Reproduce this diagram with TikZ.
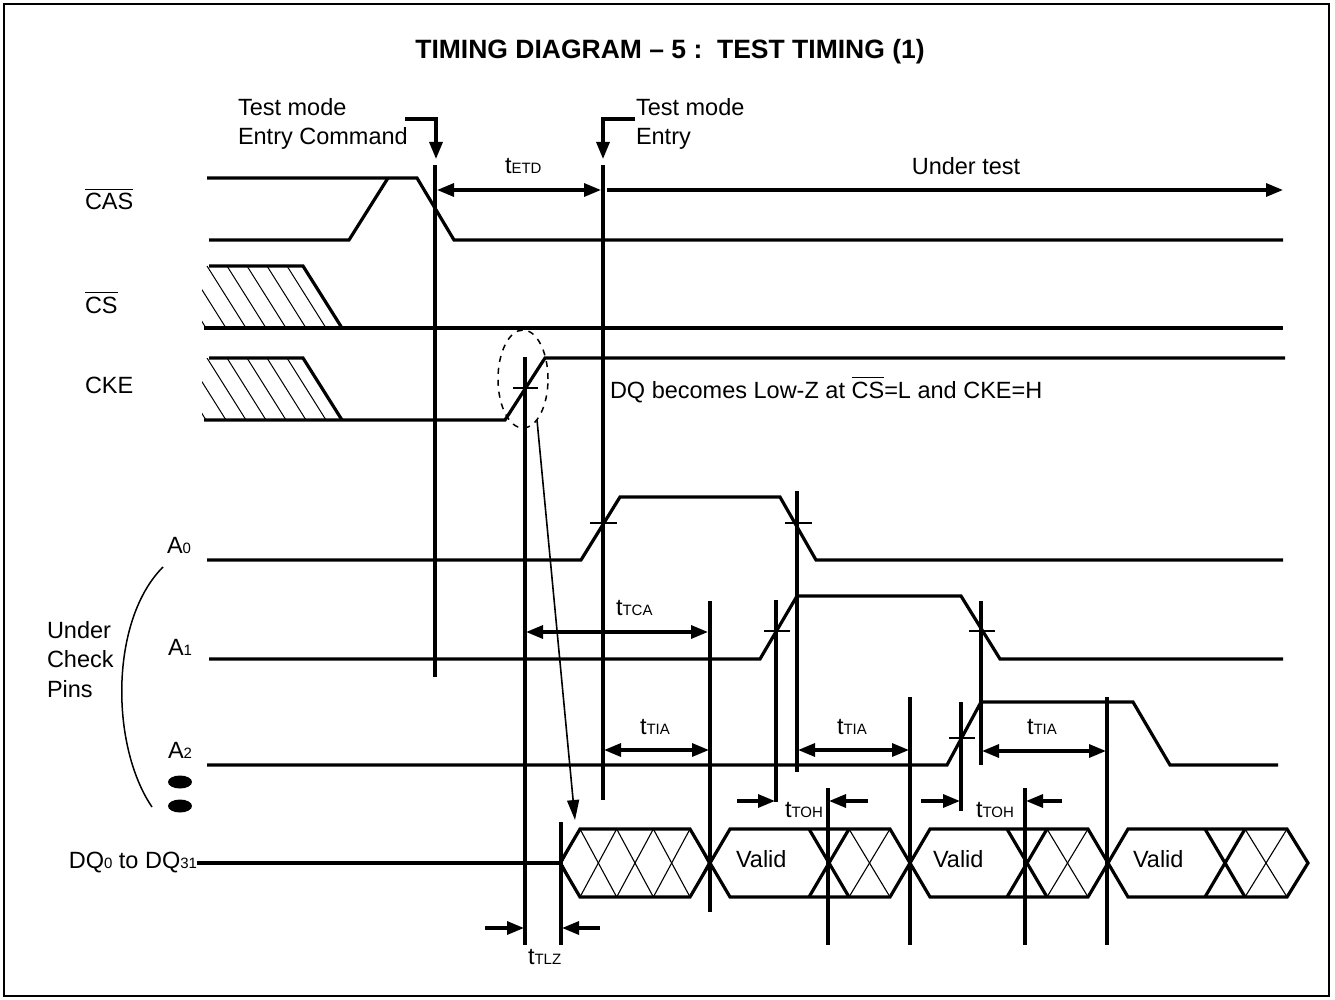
\documentclass[tikz,border=0pt]{standalone}
\usepackage{fontspec}
\setmainfont{Liberation Sans}
\usetikzlibrary{arrows.meta}
\newcommand\ovl[1]{\vbox{\hrule height 1.4pt\kern 3.6pt\hbox{#1}}}
\newcommand\sbs[1]{{\fontsize{15}{15}\selectfont #1}}
\begin{document}
\begin{tikzpicture}[x=1pt,y=-1pt,
  every node/.style={inner sep=0pt, outer sep=0pt},
  lbl/.style={font=\fontsize{23.5}{28}\selectfont},
  wave/.style={line width=3.2pt, line join=miter},
  vmark/.style={line width=3.2pt},
  tickmark/.style={line width=2.4pt},
  hatchline/.style={line width=1pt},
  latt/.style={line width=1.1pt},
  dimarrow/.style={line width=3.2pt, -{Triangle[length=17pt,width=13pt]}},
  dimboth/.style={line width=3.2pt, {Triangle[length=17pt,width=13pt]}-{Triangle[length=17pt,width=13pt]}},
]
\useasboundingbox (0,0) rectangle (1335,1000);
\fill[white] (0,0) rectangle (1335,1000);
\draw[line width=2pt] (4,4) rectangle (1329,996);

% title
\node[font=\bfseries\fontsize{26.5}{30}\selectfont, anchor=base] (title) at (670,58.5) {TIMING DIAGRAM – 5 :\ \ TEST TIMING (1)};

% top annotations
\node[lbl, anchor=base west] (tm1) at (238,116) {Test mode};
\node[lbl, anchor=base west] (ec1) at (238,145) {Entry Command};
\node[lbl, anchor=base west] (tm2) at (636,116) {Test mode};
\node[lbl, anchor=base west] (en2) at (636,145) {Entry};
\node[lbl, anchor=base west] (tetd) at (505,174) {t\sbs{ETD}};
\node[lbl, anchor=base] (ut) at (966,175) {Under test};

% signal labels
\node[lbl, anchor=base west] (cas) at (85,210) {\ovl{CAS}};
\node[lbl, anchor=base west] (cs) at (85,313) {\ovl{CS}};
\node[lbl, anchor=base west] (cke) at (85,393) {CKE};
\node[lbl, anchor=base west] (a0) at (167,553) {A\sbs{0}};
\node[lbl, anchor=base west] (a1) at (168,655) {A\sbs{1}};
\node[lbl, anchor=base west] (a2) at (168,758) {A\sbs{2}};
\node[lbl, anchor=base west] (u1) at (47,638) {Under};
\node[lbl, anchor=base west] (u2) at (47,667) {Check};
\node[lbl, anchor=base west] (u3) at (47,697) {Pins};
\node[lbl, anchor=base east] (dq) at (197,868) {DQ\sbs{0} to DQ\sbs{31}};
\node[lbl, anchor=base west] (lowz) at (610,398) {DQ becomes Low-Z at \ovl{CS}=L and CKE=H};

% timing labels
\node[lbl, anchor=base west] (ttca) at (616,615) {t\sbs{TCA}};
\node[lbl, anchor=base west] (ttia1) at (640,734) {t\sbs{TIA}};
\node[lbl, anchor=base west] (ttia2) at (837,734) {t\sbs{TIA}};
\node[lbl, anchor=base west] (ttia3) at (1027,734) {t\sbs{TIA}};
\node[lbl, anchor=base west] (ttoh1) at (785,817) {t\sbs{TOH}};
\node[lbl, anchor=base west] (ttoh2) at (976,817) {t\sbs{TOH}};
\node[lbl, anchor=base west] (ttlz) at (528,964) {t\sbs{TLZ}};

% CAS
\draw[wave] (207,178) -- (417,178) -- (454,240) -- (1283,240);
\draw[wave] (209,240) -- (349,240) -- (388,178);

% CS
\begin{scope}
\clip (202,266) -- (303,266) -- (342,328) -- (202,328) -- cycle;
\foreach \x in {147,167,...,287} \draw[hatchline] (\x,266) -- ++(39,62);
\end{scope}
\draw[wave] (209,266) -- (303,266) -- (342,328);
\draw[wave] (204,328) -- (1283,328);

% CKE
\begin{scope}
\clip (202,358) -- (303,358) -- (342,420) -- (202,420) -- cycle;
\foreach \x in {147,167,...,287} \draw[hatchline] (\x,358) -- ++(39,62);
\end{scope}
\draw[wave] (209,358) -- (303,358) -- (342,420);
\draw[wave] (204,420) -- (505,420) -- (545,358) -- (1285,358);

% A0, A1, A2
\draw[wave] (207,560) -- (581,560) -- (620,497) -- (780,497) -- (816,560) -- (1283,560);
\draw[wave] (209,659) -- (760,659) -- (797,596) -- (961,596) -- (1000,659) -- (1283,659);
\draw[wave] (207,765) -- (947,765) -- (981,702) -- (1133,702) -- (1170,765) -- (1278,765);

% vertical markers
\draw[vmark] (435,165) -- (435,677);
\draw[vmark] (603,165) -- (603,800);
\draw[vmark] (525,357) -- (525,945);
\draw[vmark] (561,822) -- (561,945);
\draw[vmark] (710,601) -- (710,912);
\draw[vmark] (776,600) -- (776,802);
\draw[vmark] (797,491) -- (797,772);
\draw[vmark] (828,788) -- (828,945);
\draw[vmark] (910,697) -- (910,945);
\draw[vmark] (961,702) -- (961,811);
\draw[vmark] (981,601) -- (981,765);
\draw[vmark] (1025,788) -- (1025,945);
\draw[vmark] (1107,697) -- (1107,945);

% tick marks
\draw[tickmark] (513,388) -- (538,388);
\draw[tickmark] (590,523) -- (617,523);
\draw[tickmark] (785,523) -- (812,523);
\draw[tickmark] (764,631) -- (790,631);
\draw[tickmark] (969,631) -- (995,631);
\draw[tickmark] (949,738) -- (975,738);

% arrows
\draw[dimarrow] (405,119) -| (436,159);
\draw[dimarrow] (635,119) -| (603,159);
\draw[dimboth] (437,190) -- (601,190);
\draw[dimarrow] (607,190) -- (1283,190);
\draw[dimboth] (526,632) -- (708,632);
\draw[dimboth] (604,750) -- (709,750);
\draw[dimboth] (798,750) -- (909,750);
\draw[dimboth] (982,751) -- (1106,751);
\draw[dimarrow] (737,801) -- (775,801);
\draw[dimarrow] (868,801) -- (829,801);
\draw[dimarrow] (921,801) -- (960,801);
\draw[dimarrow] (1062,801) -- (1026,801);
\draw[dimarrow] (485,928) -- (524,928);
\draw[dimarrow] (600,928) -- (562,928);

% CKE ellipse and pointer
\draw[line width=1.5pt, dash pattern=on 6pt off 6pt] (523,379) ellipse [x radius=25pt, y radius=49pt];
\draw[line width=1.6pt, -{Triangle[length=20pt,width=12pt]}] (537,420) -- (575,820);

% bracket and dots
\draw[line width=1.5pt] (163,567) .. controls (110,620) and (110,745) .. (152,807);
\fill (180,782) ellipse [x radius=12pt, y radius=6.5pt];
\fill (180,806) ellipse [x radius=12pt, y radius=6.5pt];

% DQ bus
\draw[wave] (197,863) -- (560,863);
\begin{scope}
\clip (560,863) -- (580,829) -- (690,829) -- (710,863) -- (690,897) -- (580,897) -- cycle;
\foreach \k in {-2,...,4} {
  \draw[latt] ({580+36.67*\k},829) -- ++(36.67,68);
  \draw[latt] ({580+36.67*\k},829) -- ++(-36.67,68);
}
\end{scope}
\draw[wave] (560,863) -- (580,829) -- (690,829) -- (710,863) -- (690,897) -- (580,897) -- cycle;
% hexagon B
\draw[wave] (710,863) -- (730,829) -- (890,829) -- (910,863) -- (890,897) -- (730,897) -- cycle;
\draw[wave] (809,829) -- (849,897);
\draw[wave] (809,897) -- (849,829);
\draw[latt] (849,829) -- (890,897);
\draw[latt] (890,829) -- (849,897);
% hexagon C
\draw[wave] (910,863) -- (930,829) -- (1088,829) -- (1108,863) -- (1088,897) -- (930,897) -- cycle;
\draw[wave] (1007,829) -- (1047,897);
\draw[wave] (1007,897) -- (1047,829);
\draw[latt] (1047,829) -- (1088,897);
\draw[latt] (1088,829) -- (1047,897);
% hexagon D
\draw[wave] (1108,863) -- (1128,829) -- (1287,829) -- (1308,863) -- (1287,897) -- (1128,897) -- cycle;
\draw[wave] (1205,829) -- (1245,897);
\draw[wave] (1205,897) -- (1245,829);
\draw[latt] (1245,829) -- (1287,897);
\draw[latt] (1287,829) -- (1245,897);

\node[lbl, anchor=base west] (v1) at (736,867) {Valid};
\node[lbl, anchor=base west] (v2) at (933,867) {Valid};
\node[lbl, anchor=base west] (v3) at (1133,867) {Valid};
\end{tikzpicture}
\end{document}
